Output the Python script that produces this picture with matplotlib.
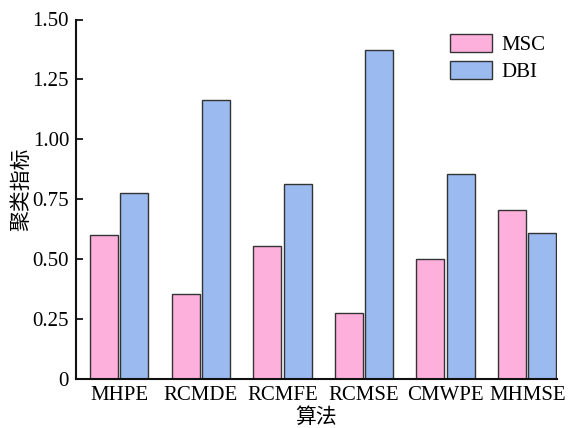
import matplotlib
matplotlib.use("Agg")
import matplotlib.pyplot as plt
import numpy as np

categories = ["MHPE", "RCMDE", "RCMFE", "RCMSE", "CMWPE", "MHMSE"]
msc = [0.60, 0.353, 0.555, 0.276, 0.50, 0.705]
dbi = [0.775, 1.163, 0.813, 1.371, 0.854, 0.608]
yticks = [0, 0.25, 0.50, 0.75, 1.00, 1.25, 1.50]
ytick_labels = ["0", "0.25", "0.50", "0.75", "1.00", "1.25", "1.50"]

serif = ["Liberation Serif", "DejaVu Serif"]
cjk = ["Noto Sans CJK SC", "DejaVu Sans"]

fig = plt.figure(figsize=(5.76, 4.28), dpi=100)
ax = fig.add_axes([76 / 576, 49 / 428, 481 / 576, 359.5 / 428])

x = np.arange(len(categories))
w = 0.343
off = 0.187
ax.bar(x - off, msc, w, color="#FDB0DC", edgecolor="#333333", linewidth=1.0, label="MSC")
ax.bar(x + off, dbi, w, color="#9ABAF0", edgecolor="#333333", linewidth=1.0, label="DBI")

ax.set_xlim(-0.529, 5.365)
ax.set_ylim(0, 1.5)
ax.set_yticks(yticks)
ax.set_yticklabels(ytick_labels, fontfamily=serif, fontsize=15)
ax.set_xticks(x)
ax.set_xticklabels(categories, fontfamily=serif, fontsize=15)
ax.tick_params(axis="y", direction="in", length=5, width=1.2, pad=5)
ax.tick_params(axis="x", length=0, pad=5)
for s in ["top", "right"]:
    ax.spines[s].set_visible(False)
for s in ["left", "bottom"]:
    ax.spines[s].set_linewidth(1.5)
    ax.spines[s].set_color("#111111")

ax.set_ylabel("聚类指标", fontfamily=cjk, fontsize=15)
ax.yaxis.set_label_coords(-0.09, 0.528)
ax.set_xlabel("算法", fontfamily=cjk, fontsize=15, labelpad=1)

leg = ax.legend(loc="upper left", bbox_to_anchor=(0.748, 1.0), frameon=False,
                prop={"family": serif, "size": 15}, handlelength=2.0, handleheight=0.96,
                handletextpad=0.45, labelspacing=0.25, borderpad=0.2)

fig.savefig("out.png", dpi=100)
